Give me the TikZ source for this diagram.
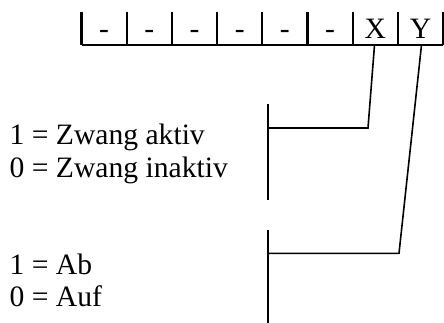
\documentclass[tikz,border=0pt]{standalone}
\usepackage{fontspec}
\setmainfont{Liberation Serif}
\begin{document}
\begin{tikzpicture}[x=1pt,y=-1pt,
  reg/.style={line width=2.2pt},
  lead/.style={line width=1.6pt},
  txt/.style={inner sep=0pt, font=\fontsize{29.6}{33}\selectfont},
  lbl/.style={txt, anchor=base west},
  bit/.style={txt, anchor=base}]
\useasboundingbox (0,0) rectangle (444,322);
% status register: eight bit cells, open at the top
\foreach \i in {0,...,8}
  \draw[reg] (81.5+\i*45.2,11.7) -- (81.5+\i*45.2,45);
\draw[reg] (81.5,45) -- (443.1,45);
\foreach \i/\t in {1/-,2/-,3/-,4/-,5/-,6/-,7/X,8/Y}
  \node[bit] (b\i) at (81.5+\i*45.2-22.6,38.3) {\t};
% lead-off points below bits X and Y
\coordinate (xt) at (374.5,45);
\coordinate (yt) at (421.5,45);
% meaning of bit X
\coordinate (k1top) at (268,103.5);
\coordinate (k1bot) at (268,200);
\coordinate (k1) at (268,128);
\coordinate (j1) at (368,128);
\draw[lead] (k1top) -- (k1bot);
\draw[lead] (xt) -- (j1) -- (k1);
\node[lbl] (zA) at (9.5,144.5) {1 = Zwang aktiv};
\node[lbl] (zI) at (9.5,177) {0 = Zwang inaktiv};
% meaning of bit Y
\coordinate (k2top) at (268,229.5);
\coordinate (k2bot) at (268,323);
\coordinate (k2) at (268,253.3);
\coordinate (j2) at (399,253.3);
\draw[lead] (k2top) -- (k2bot);
\draw[lead] (yt) -- (j2) -- (k2);
\node[lbl] (ab) at (9.5,274) {1 = Ab};
\node[lbl] (auf) at (9.5,306) {0 = Auf};
\end{tikzpicture}
\end{document}
